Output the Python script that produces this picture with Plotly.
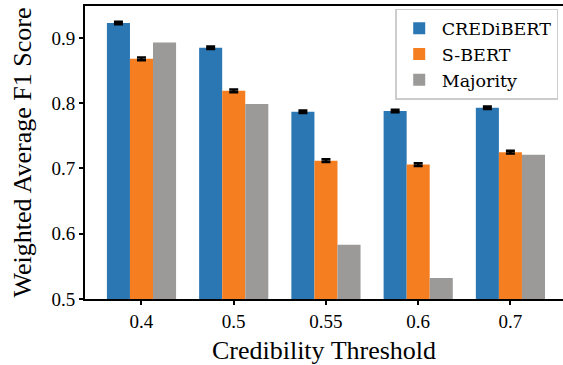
import plotly.graph_objects as go

thresholds = ["0.4", "0.5", "0.55", "0.6", "0.7"]
credibert = [0.923, 0.885, 0.787, 0.788, 0.793]
credibert_err = [0.002, 0.002, 0.002, 0.002, 0.002]
sbert = [0.868, 0.819, 0.712, 0.706, 0.725]
sbert_err = [0.002, 0.002, 0.002, 0.002, 0.002]
majority = [0.893, 0.799, 0.583, 0.532, 0.721]

x_idx = list(range(len(thresholds)))

fig = go.Figure()
fig.add_trace(go.Bar(x=x_idx, y=credibert, name="CREDiBERT", marker_color="#2a77b4",
                     marker_line_width=0,
                     error_y=dict(type="data", array=credibert_err, color="black", thickness=2.5, width=4.5)))
fig.add_trace(go.Bar(x=x_idx, y=sbert, name="S-BERT", marker_color="#f57f20",
                     marker_line_width=0,
                     error_y=dict(type="data", array=sbert_err, color="black", thickness=2.5, width=4.5)))
fig.add_trace(go.Bar(x=x_idx, y=majority, name="Majority", marker_color="#9b9a98",
                     marker_line_width=0))

serif = "Liberation Serif"
fig.update_layout(
    width=563, height=365,
    margin=dict(l=85, r=0, t=6, b=66, autoexpand=False),
    paper_bgcolor="white", plot_bgcolor="white",
    barmode="group", bargap=0.25, bargroupgap=0,
    font=dict(family=serif, color="black"),
    showlegend=True,
    legend=dict(x=0.99, y=0.99, xanchor="right", yanchor="top",
                bgcolor="rgba(255,255,255,0.9)", bordercolor="#cccccc", borderwidth=1.5,
                font=dict(family="DejaVu Serif", size=17.5, color="black"),
                itemwidth=35),
)
fig.update_xaxes(
    tickmode="array", tickvals=x_idx, ticktext=thresholds,
    range=[-0.6125, 4.57],
    showline=True, linecolor="black", linewidth=2, mirror=True,
    ticks="outside", ticklen=4, tickwidth=1.5, tickcolor="black",
    tickfont=dict(family=serif, size=19),
    title=dict(text="Credibility Threshold", font=dict(family=serif, size=26), standoff=10),
    showgrid=False, zeroline=False, automargin=False,
)
fig.update_yaxes(
    range=[0.5, 0.949],
    tickvals=[0.5, 0.6, 0.7, 0.8, 0.9], ticktext=["0.5", "0.6", "0.7", "0.8", "0.9"],
    showline=True, linecolor="black", linewidth=2,
    ticks="outside", ticklen=4, tickwidth=1.5, tickcolor="black",
    tickfont=dict(family=serif, size=19),
    title=dict(text="Weighted Average F1 Score", font=dict(family=serif, size=26), standoff=12),
    showgrid=False, zeroline=False, automargin=False,
)

fig.write_html("out.html", config={"displayModeBar": False},
               post_script="document.body.style.margin='0';document.body.style.overflow='hidden';")
